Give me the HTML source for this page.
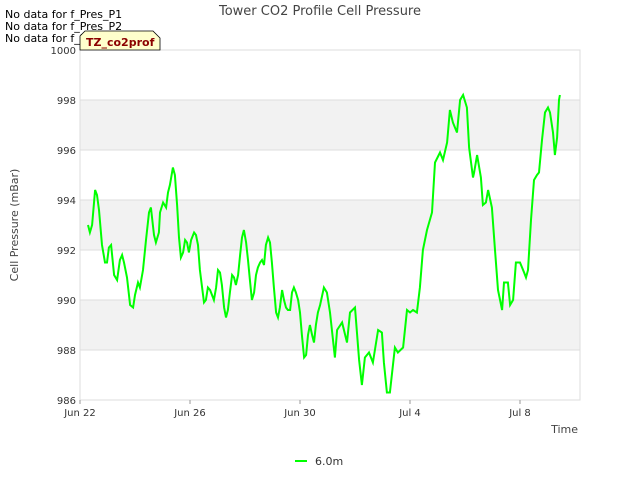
<!DOCTYPE html>
<html><head><meta charset="utf-8"><style>
body{margin:0;background:#fff;font-family:"Liberation Sans","DejaVu Sans",sans-serif}
svg text{font-family:"DejaVu Sans","Liberation Sans",sans-serif}
</style></head><body>
<svg id="c" width="640" height="480" viewBox="0 0 640 480" xmlns="http://www.w3.org/2000/svg">
<rect width="640" height="480" fill="#fff"/>
<g id="bands"></g>
<g id="grid"></g>
<rect x="80" y="50" width="500" height="350" fill="none" stroke="#ddd"/>
<g id="yt"></g><g id="xt"></g>
<path id="line" fill="none" stroke="#00ff00" stroke-width="2"/>
<text x="320" y="15" text-anchor="middle" font-size="13" fill="#444">Tower CO2 Profile Cell Pressure</text>
<text x="18" y="225" text-anchor="middle" font-size="11" fill="#444" transform="rotate(-90 18 225)">Cell Pressure (mBar)</text>
<text x="578" y="433" text-anchor="end" font-size="11" fill="#444">Time</text>
<text x="5" y="18" font-size="11" fill="#000">No data for f_Pres_P1</text>
<text x="5" y="30" font-size="11" fill="#000">No data for f_Pres_P2</text>
<text x="5" y="42" font-size="11" fill="#000">No data for f_Pres_P4</text>
<g>
<path d="M80,36 L85,31 L153,31 L160,38 L160,50 L80,50 Z" fill="#ffffcc" stroke="#000" stroke-width="0.8"/>
<text x="86" y="46" font-size="11" font-weight="bold" fill="#8b0000">TZ_co2prof</text>
</g>
<g>
<line x1="295" y1="461" x2="307" y2="461" stroke="#00ff00" stroke-width="2"/>
<text x="315" y="465" font-size="11" fill="#333">6.0m</text>
</g>
</svg>
<script>
const yTicks=[986,988,990,992,994,996,998,1000];
const xTickLabels=["Jun 22","Jun 26","Jun 30","Jul 4","Jul 8"];
const xTickDays=[0,4,8,12,16];
const days=[0.29,0.36,0.44,0.55,0.62,0.69,0.80,0.91,0.98,1.05,1.13,1.24,1.35,1.45,1.53,1.60,1.71,1.82,1.93,2.00,2.11,2.18,2.29,2.40,2.51,2.58,2.69,2.76,2.87,2.91,3.02,3.13,3.20,3.27,3.38,3.45,3.53,3.60,3.67,3.75,3.82,3.89,3.96,4.04,4.15,4.22,4.29,4.36,4.44,4.51,4.58,4.65,4.73,4.80,4.87,4.95,5.02,5.09,5.16,5.24,5.31,5.38,5.45,5.53,5.60,5.67,5.75,5.82,5.89,5.96,6.04,6.11,6.18,6.25,6.33,6.40,6.47,6.55,6.62,6.69,6.76,6.84,6.91,6.98,7.05,7.13,7.20,7.27,7.35,7.42,7.49,7.56,7.64,7.71,7.78,7.85,7.93,8.00,8.07,8.15,8.22,8.29,8.36,8.44,8.51,8.58,8.65,8.73,8.87,8.98,9.09,9.27,9.35,9.53,9.71,9.82,10.00,10.15,10.25,10.36,10.51,10.65,10.84,10.98,11.05,11.16,11.27,11.45,11.56,11.75,11.89,12.00,12.11,12.25,12.36,12.47,12.62,12.80,12.91,13.09,13.20,13.35,13.45,13.56,13.71,13.82,13.93,14.07,14.15,14.29,14.33,14.44,14.58,14.65,14.76,14.84,14.98,15.09,15.20,15.35,15.42,15.56,15.64,15.75,15.85,16.00,16.15,16.22,16.29,16.40,16.51,16.62,16.69,16.80,16.91,17.02,17.09,17.20,17.27,17.35,17.42,17.45];
const pressure=[993.0,992.7,993.0,994.4,994.2,993.6,992.2,991.5,991.5,992.1,992.2,991.0,990.8,991.6,991.8,991.5,990.9,989.8,989.7,990.2,990.7,990.5,991.2,992.4,993.5,993.7,992.6,992.3,992.7,993.5,993.9,993.7,994.3,994.6,995.3,995.0,993.8,992.5,991.7,991.9,992.4,992.3,991.9,992.4,992.7,992.6,992.2,991.2,990.5,989.9,990.0,990.5,990.4,990.2,990.0,990.5,991.2,991.1,990.6,989.7,989.3,989.6,990.3,991.0,990.9,990.6,991.0,991.8,992.5,992.8,992.3,991.6,990.8,990.0,990.3,991.0,991.3,991.5,991.6,991.4,992.2,992.5,992.3,991.5,990.5,989.5,989.3,989.7,990.4,990.0,989.7,989.6,989.6,990.3,990.5,990.3,990.0,989.5,988.6,987.7,987.8,988.6,989.0,988.6,988.3,989.0,989.5,989.8,990.5,990.3,989.5,987.7,988.8,989.1,988.3,989.5,989.7,987.6,986.6,987.7,987.9,987.5,988.8,988.7,987.5,986.3,986.3,988.1,987.9,988.1,989.6,989.5,989.6,989.5,990.5,992.0,992.8,993.5,995.5,995.9,995.6,996.3,997.6,997.1,996.7,998.0,998.2,997.7,996.1,994.9,995.1,995.8,994.9,993.8,993.9,994.4,993.7,992.0,990.4,989.6,990.7,990.7,989.8,990.0,991.5,991.5,991.1,990.9,991.2,993.2,994.8,995.0,995.1,996.4,997.5,997.7,997.5,996.7,995.8,996.5,998.0,998.2,998.5];
const X0=80,X1=580,Y0=400,Y1=50,DMAX=500/27.5;
const xs=d=>X0+d/DMAX*(X1-X0);
const ys=v=>Y0-(v-986)/(1000-986)*(Y0-Y1);
const NS="http://www.w3.org/2000/svg";
const bands=document.getElementById('bands'),grid=document.getElementById('grid'),yt=document.getElementById('yt'),xt=document.getElementById('xt');
for(let i=0;i<yTicks.length-1;i++){
 if(i%2===1){const r=document.createElementNS(NS,'rect');
  r.setAttribute('x',X0);r.setAttribute('width',X1-X0);
  r.setAttribute('y',ys(yTicks[i+1]));r.setAttribute('height',ys(yTicks[i])-ys(yTicks[i+1]));
  r.setAttribute('fill','#f2f2f2');
  
  
  bands.appendChild(r);}
}
yTicks.forEach(v=>{
 const l=document.createElementNS(NS,'line');
 l.setAttribute('x1',X0);l.setAttribute('x2',X1);l.setAttribute('y1',ys(v));l.setAttribute('y2',ys(v));l.setAttribute('stroke','#ddd');
 
 
 grid.appendChild(l);
 const t=document.createElementNS(NS,'text');
 t.setAttribute('x',X0-4);t.setAttribute('y',ys(v)+4);t.setAttribute('text-anchor','end');t.setAttribute('font-size','10');t.setAttribute('fill','#333');
 t.textContent=v;
 
 
 yt.appendChild(t);
});
xTickDays.forEach((d,i)=>{
 const t=document.createElementNS(NS,'text');
 t.setAttribute('x',xs(d));t.setAttribute('y',416);t.setAttribute('text-anchor','middle');t.setAttribute('font-size','10');t.setAttribute('fill','#333');
 t.textContent=xTickLabels[i];
 
 
 xt.appendChild(t);
 const l=document.createElementNS(NS,'line');
 l.setAttribute('x1',xs(d));l.setAttribute('x2',xs(d));l.setAttribute('y1',400);l.setAttribute('y2',404);l.setAttribute('stroke','#999');
 
 
 xt.appendChild(l);
});
document.getElementById('line').setAttribute('d',days.map((d,i)=>(i?'L':'M')+xs(d).toFixed(1)+','+ys(pressure[i]).toFixed(1)).join(''));
</script>
</body></html>
